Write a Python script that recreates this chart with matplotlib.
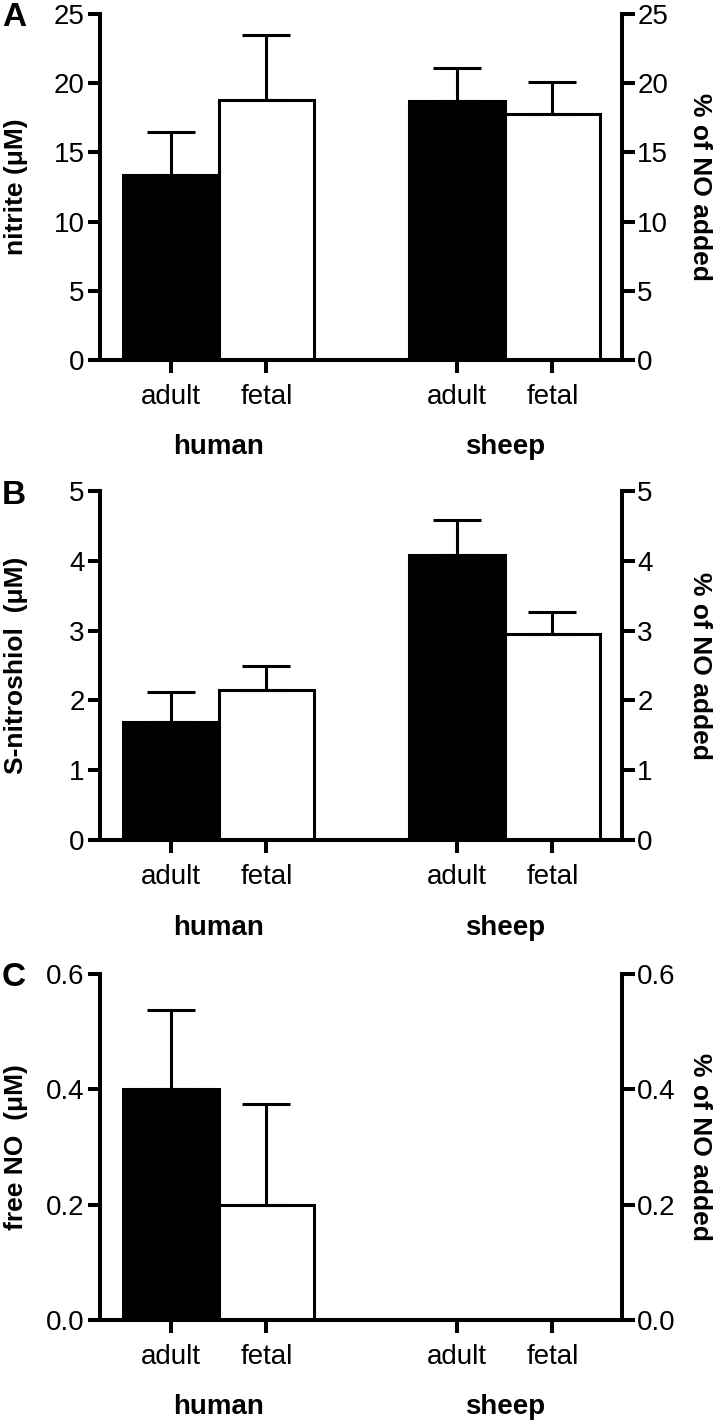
import numpy as np
import matplotlib
matplotlib.use("Agg")
import matplotlib.pyplot as plt
import matplotlib.transforms as mtransforms

plt.rcParams["font.family"] = ["Liberation Sans", "DejaVu Sans"]

groups = ["human", "sheep"]
ages = ["adult", "fetal", "adult", "fetal"]
positions = [0, 1, 3, 4]

nitrite = [13.35, 18.8, 18.75, 17.75]
nitrite_err = [3.15, 4.7, 2.35, 2.35]

snitrosothiol = [1.69, 2.15, 4.08, 2.95]
snitrosothiol_err = [0.43, 0.34, 0.51, 0.32]

free_no = [0.40, 0.20, 0.0, 0.0]
free_no_err = [0.137, 0.175, 0.0, 0.0]

panels = [
    ("A", "nitrite (\u03bcM)", nitrite, nitrite_err, 25, [0, 5, 10, 15, 20, 25], "{:.0f}"),
    ("B", "S-nitroshiol  (\u03bcM)", snitrosothiol, snitrosothiol_err, 5, [0, 1, 2, 3, 4, 5], "{:.0f}"),
    ("C", "free NO  (\u03bcM)", free_no, free_no_err, 0.6, [0.0, 0.2, 0.4, 0.6], "{:.1f}"),
]
# top / bottom pixel rows of each panel's plotting area
rows = [(14, 360), (491, 840), (974, 1320)]

W, H = 720, 1426
fig = plt.figure(figsize=(W / 100, H / 100), dpi=100)

LW = 2.9
BAR_LW = 2.2
FS = 20

for (letter, ylabel, vals, errs, ymax, yticks, fmt), (top, bot) in zip(panels, rows):
    ax = fig.add_axes([100 / W, 1 - bot / H, 522 / W, (bot - top) / H])
    colors = ["black", "white", "black", "white"]
    ax.bar(positions, vals, width=1.0, color=colors, edgecolor="black",
           linewidth=BAR_LW, zorder=2)
    for p, v, e in zip(positions, vals, errs):
        if e > 0:
            ax.errorbar([p], [v], yerr=[[0], [e]], fmt="none", ecolor="black",
                        elinewidth=BAR_LW, capsize=17.5, capthick=BAR_LW, zorder=3)
    ax.set_xlim(-0.745, 4.73)
    ax.set_ylim(0, ymax)
    ax.set_yticks(yticks)
    ax.set_yticklabels([fmt.format(t) for t in yticks])
    ax.set_xticks(positions)
    ax.set_xticklabels(ages)
    for s in ["top", "right"]:
        ax.spines[s].set_visible(False)
    for s in ["left", "bottom"]:
        ax.spines[s].set_linewidth(LW)
    ax.tick_params(axis="y", direction="out", length=9, width=LW, labelsize=FS, pad=2)
    ax.tick_params(axis="x", direction="out", length=9, width=LW, labelsize=FS, pad=8)
    ax.set_ylabel(ylabel, fontsize=FS - 1, fontweight="bold", va="center")
    ax.yaxis.set_label_coords(-0.161, 0.5)

    trans = mtransforms.blended_transform_factory(ax.transData, ax.transAxes)
    ax.text(0.5, -0.252, groups[0], transform=trans, ha="center", va="center",
            fontsize=FS, fontweight="bold")
    ax.text(3.5, -0.252, groups[1], transform=trans, ha="center", va="center",
            fontsize=FS, fontweight="bold")

    ax2 = ax.twinx()
    ax2.set_ylim(0, ymax)
    ax2.set_yticks(yticks)
    ax2.set_yticklabels([fmt.format(t) for t in yticks])
    for s in ["top", "left", "bottom"]:
        ax2.spines[s].set_visible(False)
    ax2.spines["right"].set_linewidth(LW)
    ax2.tick_params(axis="y", direction="out", length=9, width=LW, labelsize=FS, pad=2)
    ax2.set_ylabel("% of NO added", fontsize=FS - 1, fontweight="bold",
                   rotation=270, va="center")
    ax2.yaxis.set_label_coords(1.149, 0.5)

    fig.text(14 / W, 1 - (top + 4) / H, letter, ha="center", va="center",
             fontsize=24, fontweight="bold")

fig.savefig("out.png", dpi=100)
